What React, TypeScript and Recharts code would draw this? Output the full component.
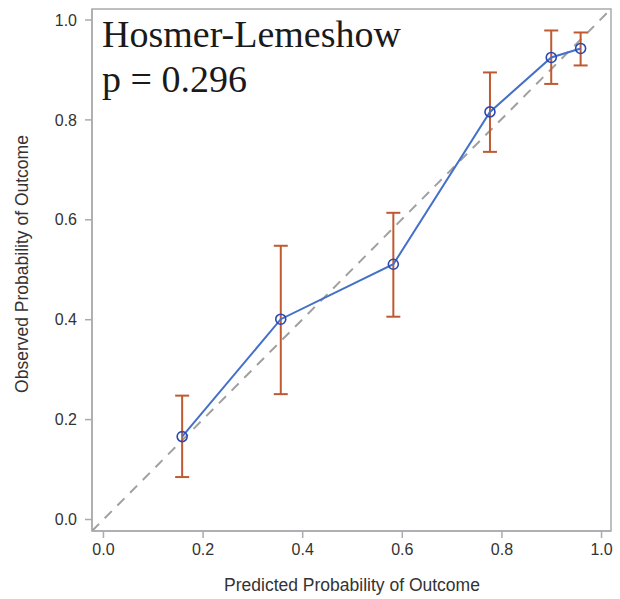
import React from 'react';
import {
  ComposedChart,
  Line,
  XAxis,
  YAxis,
  ErrorBar,
  ReferenceLine,
  ReferenceArea,
  Label,
} from 'recharts';

// ---- data ----
const predicted = [0.158, 0.356, 0.582, 0.776, 0.899, 0.958];
const observed = [0.166, 0.401, 0.511, 0.816, 0.925, 0.943];
const lowerCI = [0.085, 0.251, 0.406, 0.736, 0.872, 0.909];
const upperCI = [0.248, 0.548, 0.614, 0.895, 0.979, 0.975];
const xTicks = [0, 0.2, 0.4, 0.6, 0.8, 1.0];
const yTicks = [0, 0.2, 0.4, 0.6, 0.8, 1.0];
const titleLine1 = 'Hosmer-Lemeshow';
const titleLine2 = 'p = 0.296';
const xTitle = 'Predicted Probability of Outcome';
const yTitle = 'Observed Probability of Outcome';

const X_DOMAIN: [number, number] = [-0.023, 1.019];
const Y_DOMAIN: [number, number] = [-0.023, 1.022];

const data = predicted.map((x, i) => ({
  x,
  y: observed[i],
  err: [observed[i] - lowerCI[i], upperCI[i] - observed[i]],
}));

const FRAME = '#A9ABAE';
const TEXT = '#333333';
const SANS = '"Liberation Sans", Arial, sans-serif';

const YTitle = (props: any) => {
  const vb = props.viewBox || { x: 0, y: 9, width: 92, height: 522 };
  const cx = vb.x + 22;
  const cy = 264;
  return (
    <text
      x={cx}
      y={cy}
      transform={`rotate(-90 ${cx} ${cy})`}
      textAnchor="middle"
      dominantBaseline="central"
      fontFamily={SANS}
      fontSize={17.5}
      fill={TEXT}
    >
      {yTitle}
    </text>
  );
};

const XTitle = () => {
  return (
    <text
      x={352}
      y={591}
      textAnchor="middle"
      fontFamily={SANS}
      fontSize={17.5}
      fill={TEXT}
    >
      {xTitle}
    </text>
  );
};

export default function App() {
  return (
    <div style={{ position: 'absolute', left: 0, top: 0, width: 620, height: 599, background: '#fff' }}>
      <ComposedChart
        width={620}
        height={599}
        data={data}
        margin={{ top: 9, right: 9, bottom: 0, left: 0 }}
      >
        <XAxis
          type="number"
          dataKey="x"
          domain={X_DOMAIN}
          ticks={xTicks}
          allowDataOverflow
          height={68}
          tickSize={7}
          tickMargin={6}
          tickFormatter={(v: number) => v.toFixed(1)}
          tick={{ fill: TEXT, fontSize: 16, fontFamily: SANS }}
          axisLine={{ stroke: FRAME, strokeWidth: 1.5 }}
          tickLine={{ stroke: FRAME, strokeWidth: 1.5 }}
          label={<Label content={<XTitle />} />}
        />
        <YAxis
          type="number"
          dataKey="y"
          domain={Y_DOMAIN}
          ticks={yTicks}
          allowDataOverflow
          width={92}
          tickSize={7}
          tickMargin={8}
          tickFormatter={(v: number) => v.toFixed(1)}
          tick={{ fill: TEXT, fontSize: 16, fontFamily: SANS }}
          axisLine={{ stroke: FRAME, strokeWidth: 1.5 }}
          tickLine={{ stroke: FRAME, strokeWidth: 1.5 }}
          label={<Label content={<YTitle />} />}
        />
        <ReferenceArea
          x1={X_DOMAIN[0]}
          x2={X_DOMAIN[1]}
          y1={Y_DOMAIN[0]}
          y2={Y_DOMAIN[1]}
          fill="none"
          stroke={FRAME}
          strokeWidth={1.5}
          fillOpacity={0}
        />
        <ReferenceLine
          segment={[
            { x: X_DOMAIN[0], y: Y_DOMAIN[0] },
            { x: X_DOMAIN[1], y: Y_DOMAIN[1] },
          ]}
          stroke="#A0A0A0"
          strokeWidth={2}
          strokeDasharray="10 8"
          ifOverflow="visible"
        />
        <Line
          type="linear"
          dataKey="y"
          stroke="#4470C8"
          strokeWidth={2}
          isAnimationActive={false}
          dot={{ r: 5, stroke: '#2A48B0', strokeWidth: 1.6, fill: 'none' }}
          activeDot={false}
        >
          <ErrorBar
            dataKey="err"
            direction="y"
            width={7}
            stroke="#BF5A30"
            strokeWidth={2}
            isAnimationActive={false}
          />
        </Line>
      </ComposedChart>
      <svg
        width={620}
        height={599}
        style={{ position: 'absolute', left: 0, top: 0, pointerEvents: 'none' }}
      >
        <text x={102} y={47} fontFamily='"Liberation Serif", "Times New Roman", serif' fontSize={38} fill="#1a1a1a">
          {titleLine1}
        </text>
        <text x={102} y={92} fontFamily='"Liberation Serif", "Times New Roman", serif' fontSize={38} fill="#1a1a1a">
          {titleLine2}
        </text>
      </svg>
    </div>
  );
}
